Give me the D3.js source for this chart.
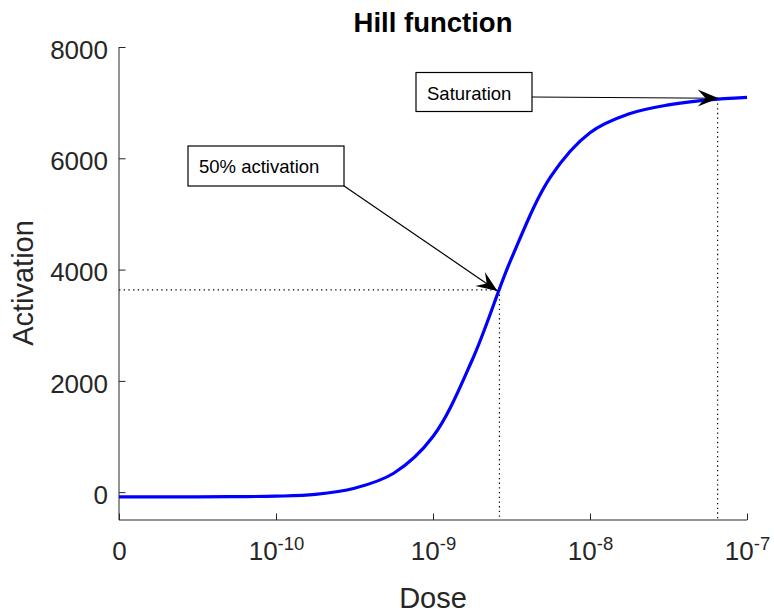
<!DOCTYPE html>
<meta charset="utf-8">
<script src="https://d3js.org/d3.v7.min.js"></script>
<style>
	body{
		margin:0;
		background:#fff;
		font-family:'Liberation Sans', Arial, sans-serif;
	}
	.axis path, .axis line{
		stroke:#262626;
		stroke-width:1;
	}
	.tickLabel{
		fill:#262626;
		font-size:26px;
	}
	.axisLabel{
		fill:#262626;
		font-size:29px;
	}
	.note{
		font-size:18.5px;
		fill:#000;
	}
</style>
<div id="chart"></div>
<script>
	// values (quarter-decade steps)
	var doses = [1e-11, 1.78e-11, 3.16e-11, 5.62e-11, 1e-10, 1.78e-10, 3.16e-10, 5.62e-10, 1e-9, 1.78e-9, 3.16e-9, 5.62e-9, 1e-8, 1.78e-8, 3.16e-8, 5.62e-8, 1e-7]
	var activation = [-85, -85, -84, -80, -72, -40, 70, 340, 1000, 2380, 4200, 5670, 6460, 6800, 6960, 7050, 7095]

	var xTicks = [1e-11, 1e-10, 1e-9, 1e-8, 1e-7]
	var xTickLabels = ["0", "-10", "-9", "-8", "-7"] // exponents, first one shown as plain 0
	var yTicks = [0, 2000, 4000, 6000, 8000]

	var halfDose = 2.65e-9
	var halfAct = 3635
	var satDose = 6.5e-8
	var satAct = 7070

	var w = 774
	var h = 613
	var mLeft = 119, mRight = 747, mTop = 47, mBottom = 520

	var svg = d3.select("#chart").append("svg").attr("width",w).attr("height",h)

	var xScale = d3.scaleLog().domain([1e-11,1e-7]).range([mLeft,mRight])
	var yScale = d3.scaleLinear().domain([-500,8000]).range([mBottom,mTop])

	// dotted guide lines
	var guides = svg.append("g").attr("stroke","#000").attr("stroke-width",1.2).attr("stroke-dasharray","1.3,3.4")
	guides.append("line")
		.attr("x1",mLeft).attr("x2",xScale(halfDose))
		.attr("y1",yScale(halfAct)).attr("y2",yScale(halfAct))
	guides.append("line")
		.attr("x1",xScale(halfDose)).attr("x2",xScale(halfDose))
		.attr("y1",yScale(halfAct)).attr("y2",mBottom)
	guides.append("line")
		.attr("x1",xScale(satDose)).attr("x2",xScale(satDose))
		.attr("y1",yScale(satAct)).attr("y2",mBottom)

	// axes
	var xAxis = d3.axisBottom(xScale).tickValues(xTicks).tickFormat(function(){return ""})
		.tickSizeInner(-6.5).tickSizeOuter(0)
	var gx = svg.append("g").attr("class","axis").attr("transform","translate(0,"+mBottom+")").call(xAxis)
	gx.selectAll(".tick").each(function(d,i){
		var t = d3.select(this).append("text").attr("class","tickLabel").attr("text-anchor","middle").attr("y",39.5)
		if(i==0){
			t.text("0")
		}else{
			t.append("tspan").text("10")
			t.append("tspan").attr("dy",-10).style("font-size","18.5px").text(xTickLabels[i])
		}
	})

	var yAxis = d3.axisLeft(yScale).tickValues(yTicks).tickFormat(function(){return ""})
		.tickSizeInner(-6.5).tickSizeOuter(0)
	var gy = svg.append("g").attr("class","axis").attr("transform","translate("+mLeft+",0)").call(yAxis)
	gy.select(".domain").attr("d","M0,"+mTop+"V"+mBottom)
	gx.select(".domain").attr("d","M"+mLeft+",0H"+mRight)
	gy.selectAll(".tick").append("text").attr("class","tickLabel")
		.attr("text-anchor","end").attr("x",-11).attr("y",11.3)
		.text(function(d){return d})

	// curve
	var line = d3.line()
		.x(function(d,i){return xScale(doses[i])})
		.y(function(d){return yScale(d)})
		.curve(d3.curveCatmullRom.alpha(0.5))
	svg.append("path").datum(activation)
		.attr("d",line)
		.attr("fill","none")
		.attr("stroke","#0000ff")
		.attr("stroke-width",3.2)

	// arrows + text boxes
	function arrow(x1,y1,x2,y2){
		var ang = Math.atan2(y2-y1,x2-x1)
		var g = svg.append("g")
		g.append("line").attr("x1",x1).attr("y1",y1).attr("x2",x2).attr("y2",y2)
			.attr("stroke","#000").attr("stroke-width",1.2)
		g.append("path")
			.attr("d","M0,0L-21,-8.5L-13,0L-21,8.5Z")
			.attr("fill","#000")
			.attr("transform","translate("+x2+","+y2+") rotate("+(ang*180/Math.PI)+")")
	}
	function box(x,y,bw,bh,txt){
		svg.append("rect").attr("x",x).attr("y",y).attr("width",bw).attr("height",bh)
			.attr("fill","#fff").attr("stroke","#000").attr("stroke-width",1.2)
		svg.append("text").attr("class","note").attr("x",x+11).attr("y",y+27).text(txt)
	}
	arrow(343.7,185.7,xScale(halfDose)-2,yScale(halfAct)+1)
	box(188,146,156,40,"50% activation")
	arrow(531,97,xScale(satDose)+1,yScale(satAct)-0.5)
	box(416,72.5,116,39,"Saturation")

	// labels
	svg.append("text").attr("x",(mLeft+mRight)/2).attr("y",31.5).attr("text-anchor","middle")
		.style("font-size","27.5px").style("font-weight","bold").attr("fill","#000").text("Hill function")
	svg.append("text").attr("class","axisLabel").attr("x",(mLeft+mRight)/2).attr("y",608).attr("text-anchor","middle").text("Dose")
	svg.append("text").attr("class","axisLabel").attr("text-anchor","middle")
		.attr("transform","translate(33,283) rotate(-90)").text("Activation")
</script>
